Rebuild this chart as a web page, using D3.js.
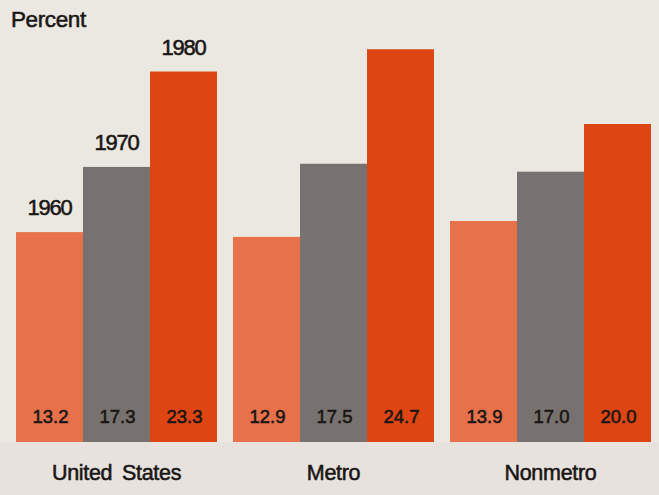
<!DOCTYPE html>
<html>
<head>
<meta charset="utf-8">
<script src="https://cdn.jsdelivr.net/npm/d3@7/dist/d3.min.js"></script>
<style>
  html, body { margin: 0; padding: 0; background: #ebe8e2; }
  svg { display: block; }
  text { font-family: "Liberation Sans", Arial, Helvetica, sans-serif; fill: #1a1614; stroke: #1a1614; stroke-width: 0.55px; }
</style>
</head>
<body>
<svg id="chart" width="659" height="495"></svg>
<script>
// Share of population, by area and census year (percent)
const areas = ["United States", "Metro", "Nonmetro"];
const years = ["1960", "1970", "1980"];
const values1960 = [13.2, 12.9, 13.9];
const values1970 = [17.3, 17.5, 17.0];
const values1980 = [23.3, 24.7, 20.0];
const yearColors = ["#e6714b", "#77716f", "#dd4512"];

const series = [values1960, values1970, values1980];
const rows = areas.map((area, i) => ({
  area,
  bars: years.map((year, j) => ({ year, value: series[j][i], color: yearColors[j] }))
}));

const svg = d3.select("#chart");
const W = 659, H = 495;
const baseY = 442;

// Band scales: one band per area, three sub-bands per year
const x0 = d3.scaleBand().domain(areas).range([16, 651]).paddingInner(0.0737).paddingOuter(0);
const x1 = d3.scaleBand().domain(years).range([0, x0.bandwidth()]).padding(0);
const y = d3.scaleLinear().domain([0, 25]).range([baseY, baseY - 15.9 * 25]);

// Slightly lighter strip under the bars
svg.append("rect").attr("x", 0).attr("y", baseY).attr("width", W).attr("height", H - baseY)
  .attr("fill", "#e7e2de");

const groups = svg.selectAll("g.area").data(rows).join("g")
  .attr("class", "area")
  .attr("transform", d => `translate(${x0(d.area)},0)`);

groups.selectAll("rect").data(d => d.bars).join("rect")
  .attr("x", d => x1(d.year))
  .attr("y", d => y(d.value))
  .attr("width", x1.bandwidth())
  .attr("height", d => baseY - y(d.value))
  .attr("fill", d => d.color);

// Value labels near the bar bottoms
groups.selectAll("text.val").data(d => d.bars).join("text")
  .attr("class", "val")
  .attr("x", d => x1(d.year) + x1.bandwidth() / 2 + 1)
  .attr("y", 423)
  .attr("text-anchor", "middle")
  .attr("font-size", 18.5)
  .text(d => d.value.toFixed(1));

// Year labels above the first group's bars
svg.append("g").selectAll("text").data(rows[0].bars).join("text")
  .attr("x", d => x0(rows[0].area) + x1(d.year) + x1.bandwidth() / 2)
  .attr("y", d => y(d.value) - 17)
  .attr("text-anchor", "middle")
  .attr("font-size", 22)
  .attr("letter-spacing", -1.2)
  .text(d => d.year);

// Area labels
svg.append("g").selectAll("text").data(areas).join("text")
  .attr("x", d => x0(d) + x0.bandwidth() / 2)
  .attr("y", 480)
  .attr("text-anchor", "middle")
  .attr("font-size", 21.5)
  .attr("letter-spacing", -0.3)
  .attr("word-spacing", 4)
  .text(d => d);

// Unit label
svg.append("text")
  .attr("x", 11).attr("y", 27)
  .attr("font-size", 22.5)
  .attr("letter-spacing", -0.4)
  .text("Percent");
</script>
</body>
</html>
